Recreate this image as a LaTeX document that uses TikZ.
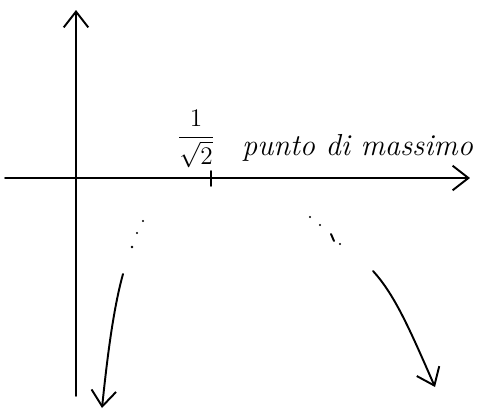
\documentclass[tikz,border=0pt]{standalone}
\usepackage{amsmath,amssymb}
\usepackage{tikz}
\usetikzlibrary{arrows.meta}
\tikzset{
  hand/.style={line width=1.1pt, line cap=round, line join=round},
  handarrow/.style={hand, -{Straight Barb[length=9pt, width=14pt, line width=1.1pt]}},
  speck/.style={fill=black},
}

\begin{document}
\begin{tikzpicture}[x=0.02cm, y=-0.02cm]
\useasboundingbox (0,0) rectangle (485,410);

% ---- AXES ----
\coordinate (ybot) at (76,396);
\coordinate (ytop) at (76,10);
\coordinate (xleft) at (5,178);
\coordinate (xright) at (470,178);
\draw[handarrow] (ybot) -- (ytop);
\draw[handarrow, line width=0.9pt] (xleft) -- (xright);

% ---- MAXIMUM ----
\coordinate (tickup) at (211,171);
\coordinate (tickdn) at (211,186);
\draw[hand] (tickup) -- (tickdn);
\node[font=\Large, inner sep=0pt] (frac) at (196,139) {$\dfrac{1}{\sqrt{2}}$};
\node[font=\LARGE\itshape, anchor=west] (maxlabel) at (236,148) {punto di massimo};

% ---- LEFT BRANCH ----
\fill[speck] (143,221) circle (1.2);
\fill[speck] (137,233) circle (1.2);
\fill[speck] (132,247) circle (1.3);
\coordinate (lstart) at (123,274);
\coordinate (lend) at (102,408);
\draw[handarrow] (lstart) .. controls (113,310) and (107,360) .. (lend);

% ---- RIGHT BRANCH ----
\fill[speck] (310,217) circle (1.1);
\fill[speck] (320,225) circle (1.1);
\draw[hand] (331,234) -- (334,241);
\fill[speck] (340,244) circle (1.1);
\coordinate (rstart) at (373,271);
\coordinate (rend) at (435,387);
\draw[handarrow] (rstart) .. controls (395,295) and (410,330) .. (rend);

\end{tikzpicture}
\end{document}
